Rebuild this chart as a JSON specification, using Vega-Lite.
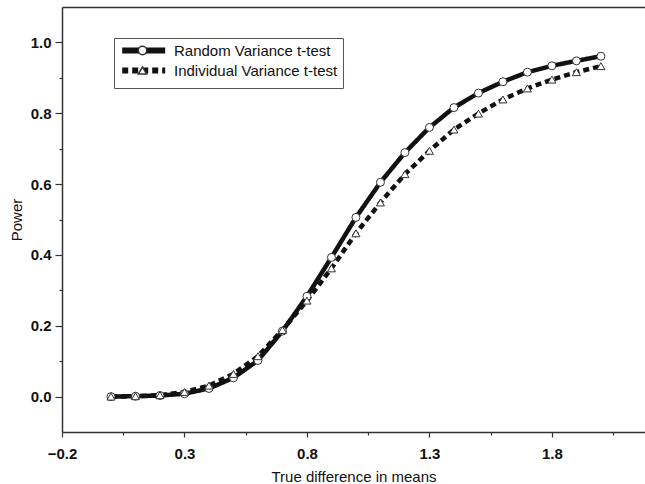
{
  "$schema": "https://vega.github.io/schema/vega-lite/v6.json",
  "width": 583,
  "height": 425,
  "autosize": {"type": "none"},
  "padding": {"left": 62, "top": 7, "right": 0, "bottom": 52},
  "background": "white",
  "config": {"view": {"stroke": null}, "font": "Liberation Sans"},
  "data": {"values": [
    {"x": 0.0, "power": 0.000, "test": "Random Variance t-test"},
    {"x": 0.1, "power": 0.001, "test": "Random Variance t-test"},
    {"x": 0.2, "power": 0.003, "test": "Random Variance t-test"},
    {"x": 0.3, "power": 0.008, "test": "Random Variance t-test"},
    {"x": 0.4, "power": 0.023, "test": "Random Variance t-test"},
    {"x": 0.5, "power": 0.053, "test": "Random Variance t-test"},
    {"x": 0.6, "power": 0.102, "test": "Random Variance t-test"},
    {"x": 0.7, "power": 0.185, "test": "Random Variance t-test"},
    {"x": 0.8, "power": 0.283, "test": "Random Variance t-test"},
    {"x": 0.9, "power": 0.393, "test": "Random Variance t-test"},
    {"x": 1.0, "power": 0.506, "test": "Random Variance t-test"},
    {"x": 1.1, "power": 0.605, "test": "Random Variance t-test"},
    {"x": 1.2, "power": 0.689, "test": "Random Variance t-test"},
    {"x": 1.3, "power": 0.760, "test": "Random Variance t-test"},
    {"x": 1.4, "power": 0.816, "test": "Random Variance t-test"},
    {"x": 1.5, "power": 0.857, "test": "Random Variance t-test"},
    {"x": 1.6, "power": 0.889, "test": "Random Variance t-test"},
    {"x": 1.7, "power": 0.916, "test": "Random Variance t-test"},
    {"x": 1.8, "power": 0.934, "test": "Random Variance t-test"},
    {"x": 1.9, "power": 0.948, "test": "Random Variance t-test"},
    {"x": 2.0, "power": 0.961, "test": "Random Variance t-test"},
    {"x": 0.0, "power": 0.000, "test": "Individual Variance t-test"},
    {"x": 0.1, "power": 0.001, "test": "Individual Variance t-test"},
    {"x": 0.2, "power": 0.004, "test": "Individual Variance t-test"},
    {"x": 0.3, "power": 0.013, "test": "Individual Variance t-test"},
    {"x": 0.4, "power": 0.031, "test": "Individual Variance t-test"},
    {"x": 0.5, "power": 0.064, "test": "Individual Variance t-test"},
    {"x": 0.6, "power": 0.114, "test": "Individual Variance t-test"},
    {"x": 0.7, "power": 0.188, "test": "Individual Variance t-test"},
    {"x": 0.8, "power": 0.271, "test": "Individual Variance t-test"},
    {"x": 0.9, "power": 0.362, "test": "Individual Variance t-test"},
    {"x": 1.0, "power": 0.461, "test": "Individual Variance t-test"},
    {"x": 1.1, "power": 0.548, "test": "Individual Variance t-test"},
    {"x": 1.2, "power": 0.628, "test": "Individual Variance t-test"},
    {"x": 1.3, "power": 0.694, "test": "Individual Variance t-test"},
    {"x": 1.4, "power": 0.754, "test": "Individual Variance t-test"},
    {"x": 1.5, "power": 0.799, "test": "Individual Variance t-test"},
    {"x": 1.6, "power": 0.839, "test": "Individual Variance t-test"},
    {"x": 1.7, "power": 0.870, "test": "Individual Variance t-test"},
    {"x": 1.8, "power": 0.895, "test": "Individual Variance t-test"},
    {"x": 1.9, "power": 0.916, "test": "Individual Variance t-test"},
    {"x": 2.0, "power": 0.933, "test": "Individual Variance t-test"}
  ]},
  "layer": [
    {
      "mark": {"type": "line", "color": "#111", "strokeWidth": 4.5},
      "encoding": {
        "x": {"field": "x", "type": "quantitative",
          "scale": {"domain": [-0.2, 2.18], "nice": false, "zero": false},
          "axis": {"orient": "bottom", "values": [-0.2, 0.3, 0.8, 1.3, 1.8], "format": ".1f",
            "labelFontSize": 15, "labelFontWeight": "bold", "labelColor": "#111", "labelPadding": 9,
            "labelFlush": false, "labelOverlap": false, "tickSize": 5, "tickColor": "#333", "tickWidth": 1.2,
            "domainColor": "#333", "domainWidth": 1.5, "grid": false,
            "title": "True difference in means", "titleFontSize": 15, "titleFontWeight": "normal",
            "titleColor": "#111", "titlePadding": 8}},
        "y": {"field": "power", "type": "quantitative",
          "scale": {"domain": [-0.1, 1.1], "nice": false, "zero": false},
          "axis": {"orient": "left", "values": [0, 0.2, 0.4, 0.6, 0.8, 1.0], "format": ".1f",
            "labelFontSize": 15, "labelFontWeight": "bold", "labelColor": "#111", "labelPadding": 4,
            "labelFlush": false, "labelOverlap": false, "tickSize": 7, "tickColor": "#333", "tickWidth": 1.2,
            "domainColor": "#333", "domainWidth": 1.5, "grid": false,
            "title": "Power", "titleFontSize": 15, "titleFontWeight": "normal",
            "titleColor": "#111", "titlePadding": 6}},
        "strokeDash": {"field": "test", "type": "nominal",
          "scale": {"domain": ["Random Variance t-test", "Individual Variance t-test"], "range": [[1, 0], [6, 4]]},
          "legend": {"orient": "none", "legendX": 52, "legendY": 31, "title": null, "zindex": 0,
            "symbolType": "M-1,0L9,0", "symbolSize": 74, "symbolStrokeWidth": 6, "symbolStrokeColor": "#111",
            "labelFontSize": 15, "labelFont": "Liberation Sans", "labelColor": "#111", "labelOffset": 40, "labelLimit": 300,
            "strokeColor": "#555", "padding": 5, "rowPadding": -5}}
      }
    },
    {
      "mark": {"type": "point", "filled": true, "fill": "white", "stroke": "#333", "strokeWidth": 1, "size": 64, "opacity": 1},
      "encoding": {
        "x": {"field": "x", "type": "quantitative",
          "axis": {"orient": "bottom", "values": [0.05, 0.55, 1.05, 1.55, 2.05], "labels": false, "domain": false,
            "tickSize": 3, "tickColor": "#333", "tickWidth": 1.2, "grid": false, "title": null}},
        "y": {"field": "power", "type": "quantitative",
          "axis": {"orient": "left", "values": [0.1, 0.3, 0.5, 0.7, 0.9], "labels": false, "domain": false,
            "tickSize": 3, "tickColor": "#333", "tickWidth": 1.2, "grid": false, "title": null}},
        "shape": {"field": "test", "type": "nominal", "sort": ["Random Variance t-test", "Individual Variance t-test"],
          "scale": {"range": ["circle", "triangle-up"]},
          "legend": {"orient": "none", "legendX": 68, "legendY": 31, "title": null, "zindex": 2,
            "symbolSize": 70,
            "encode": {"symbols": {"update": {"fill": {"value": "white"}, "stroke": {"value": "#222"}, "strokeWidth": {"value": 1.2}, "opacity": {"value": 1}}}},
            "labelExpr": "''", "labelFontSize": 15, "padding": 5, "rowPadding": 4}}
      }
    },
    {
      "mark": {"type": "point", "opacity": 0},
      "encoding": {
        "x": {"field": "x", "type": "quantitative",
          "axis": {"orient": "top", "labels": false, "ticks": false, "domainColor": "#333", "domainWidth": 1.5, "grid": false, "title": null}},
        "y": {"field": "power", "type": "quantitative", "axis": null}
      }
    }
  ],
  "resolve": {"axis": {"x": "independent", "y": "independent"}}
}
